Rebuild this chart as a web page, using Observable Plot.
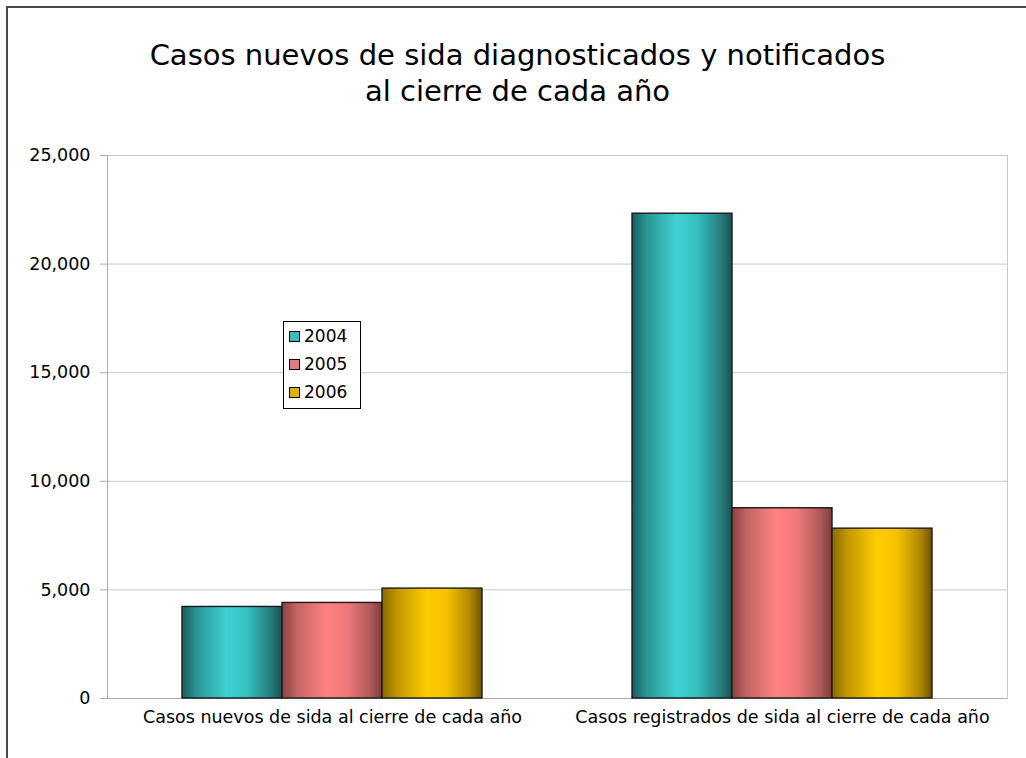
<!DOCTYPE html>
<html><head><meta charset="utf-8">
<script src="https://cdn.jsdelivr.net/npm/d3@7"></script>
<script src="https://cdn.jsdelivr.net/npm/@observablehq/plot@0.6"></script>
<style>
body{margin:0;background:#fff;font-family:"DejaVu Sans",sans-serif;}
#wrap{position:relative;width:1026px;height:758px;overflow:hidden;background:#fff;}
#frame{position:absolute;left:6px;top:6px;width:1030px;height:760px;border-top:2px solid #4a4a4a;border-left:2px solid #4a4a4a;}
#title{position:absolute;left:0;width:1035px;top:37px;text-align:center;font-size:29px;line-height:36px;color:#000;}
#chart{position:absolute;left:0;top:140px;}
#legend{position:absolute;left:283px;top:321px;width:76px;height:86px;border:1px solid #000;background:#fff;font-size:17px;}
#legend .it{position:absolute;left:5px;height:22px;line-height:22px;}
#legend .sw{display:inline-block;width:9px;height:9px;border:1px solid #000;margin-right:4px;vertical-align:middle;position:relative;top:-1px;}
</style></head>
<body>
<div id="wrap">
  <div id="frame"></div>
  <div id="title">Casos nuevos de sida diagnosticados y notificados<br>al cierre de cada año</div>
  <div id="chart"></div>
  <div id="legend"></div>
</div>
<script>
const categories = ["Casos nuevos de sida al cierre de cada año", "Casos registrados de sida al cierre de cada año"];
const years = ["2004", "2005", "2006"];
const values2004 = [4215, 22320];
const values2005 = [4400, 8760];
const values2006 = [5060, 7820];
const yTicks = [0, 5000, 10000, 15000, 20000, 25000];
const legendColors = ["#3cbcbc", "#e07b86", "#dcb400"];

const seriesValues = [values2004, values2005, values2006];
const data = [];
categories.forEach((c, i) => years.forEach((y, j) => data.push({category: c, year: y, value: seriesValues[j][i]})));

const chart = Plot.plot({
  width: 1026, height: 618,
  marginLeft: 107, marginRight: 19, marginTop: 15, marginBottom: 60,
  style: {fontFamily: "DejaVu Sans", fontSize: "17.5px", color: "#000", background: "transparent"},
  fx: {domain: categories, padding: 0, axis: "bottom", label: null, tickSize: 0, tickPadding: 12},
  x: {domain: years, paddingInner: 0, paddingOuter: 0.75, axis: null},
  y: {domain: [0, 25000], label: null},
  color: {type: "ordinal", domain: years, range: years.map(y => `url(#g${y})`)},
  marks: [
    Plot.gridY(yTicks, {stroke: "#c8c8c8", strokeOpacity: 1}),
    Plot.frame({anchor: "left", facetAnchor: "left", stroke: "#aaaaaa"}),
    Plot.frame({anchor: "right", facetAnchor: "right", stroke: "#c8c8c8"}),
    Plot.ruleY([0], {stroke: "#aaaaaa"}),
    Plot.barY(data, {fx: "category", x: "year", y: "value", fill: "year", stroke: "#1a1a1a", strokeWidth: 1.4}),
    Plot.axisY(yTicks, {anchor: "left", tickSize: 7, tickPadding: 10, tickFormat: d3.format(","), label: null, stroke: "#aaaaaa", fill: "#000"})
  ]
});

const defs = `
<linearGradient id="g2004" x1="0" x2="1" y1="0" y2="0">
  <stop offset="0" stop-color="#1b5c5c"/><stop offset="0.15" stop-color="#2a9696"/>
  <stop offset="0.45" stop-color="#3fd2d2"/><stop offset="0.65" stop-color="#35c0c0"/>
  <stop offset="0.88" stop-color="#287f7f"/><stop offset="1" stop-color="#1a5252"/>
</linearGradient>
<linearGradient id="g2005" x1="0" x2="1" y1="0" y2="0">
  <stop offset="0" stop-color="#8a4242"/><stop offset="0.15" stop-color="#c46464"/>
  <stop offset="0.45" stop-color="#ff8282"/><stop offset="0.65" stop-color="#f07878"/>
  <stop offset="0.88" stop-color="#b05a5a"/><stop offset="1" stop-color="#7c3c3c"/>
</linearGradient>
<linearGradient id="g2006" x1="0" x2="1" y1="0" y2="0">
  <stop offset="0" stop-color="#8a6a00"/><stop offset="0.15" stop-color="#c29600"/>
  <stop offset="0.45" stop-color="#ffcc00"/><stop offset="0.65" stop-color="#f5c200"/>
  <stop offset="0.88" stop-color="#b08800"/><stop offset="1" stop-color="#6e5400"/>
</linearGradient>`;
d3.select(chart).insert("defs", ":first-child").html(defs);
document.getElementById("chart").appendChild(chart);

const legend = document.getElementById("legend");
years.forEach((y, i) => {
  const it = document.createElement("div");
  it.className = "it";
  it.style.top = (3 + i * 28) + "px";
  it.innerHTML = `<span class="sw" style="background:${legendColors[i]}"></span>${y}`;
  legend.appendChild(it);
});
</script>
</body></html>
